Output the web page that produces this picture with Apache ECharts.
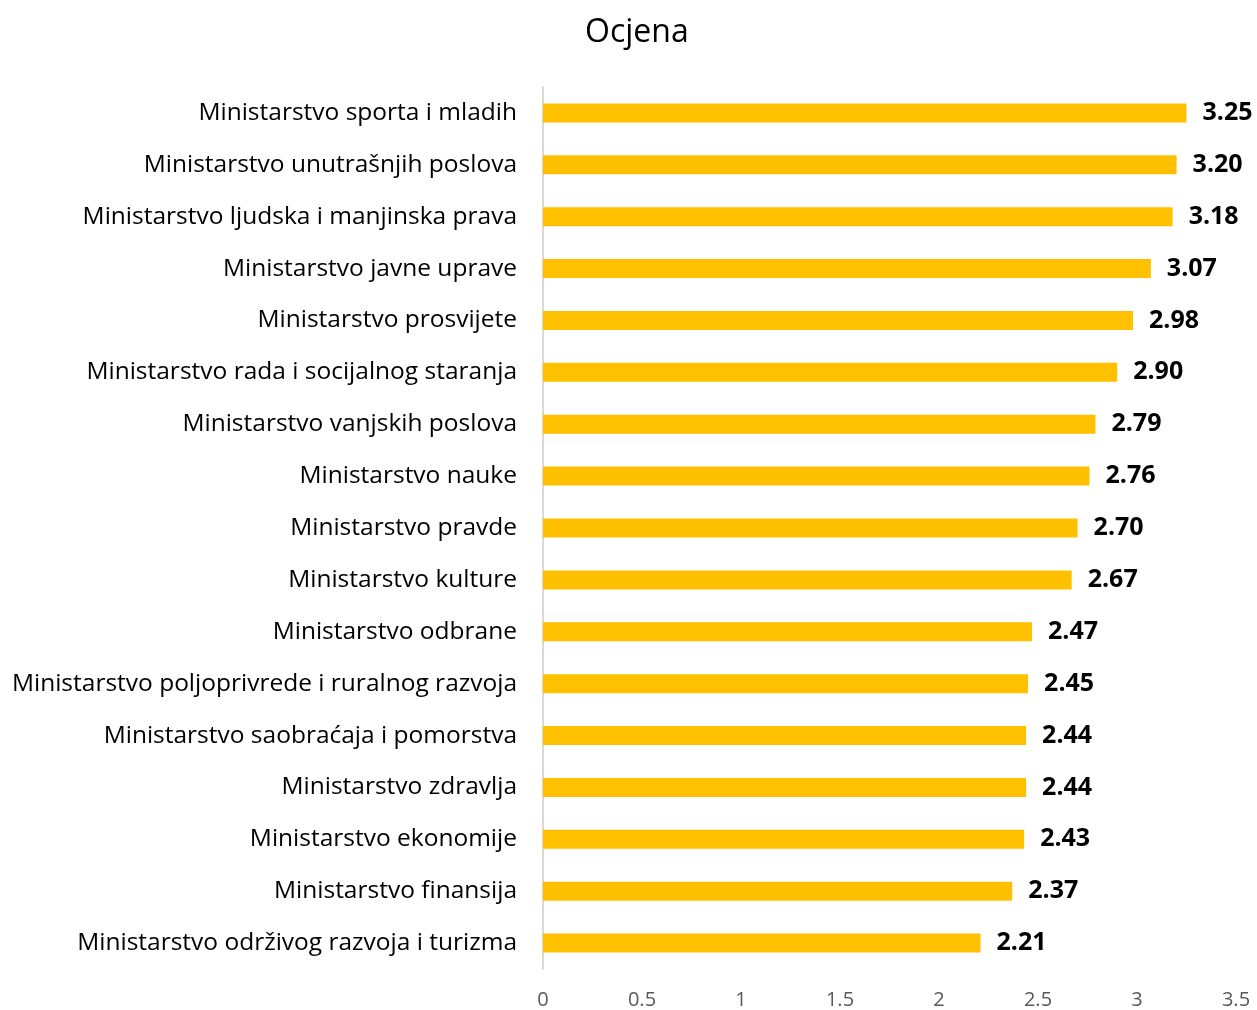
<!DOCTYPE html>
<html>
<head>
<meta charset="utf-8">
<script src="https://cdn.jsdelivr.net/npm/echarts@6/dist/echarts.min.js"></script>
<style>
  html, body { margin: 0; padding: 0; background: #fff; }
  #chart { width: 1257px; height: 1010px; }
</style>
</head>
<body>
<div id="chart"></div>
<script>
// categories, top to bottom
const ministries = [
  'Ministarstvo sporta i mladih',
  'Ministarstvo unutrašnjih poslova',
  'Ministarstvo ljudska i manjinska prava',
  'Ministarstvo javne uprave',
  'Ministarstvo prosvijete',
  'Ministarstvo rada i socijalnog staranja',
  'Ministarstvo vanjskih poslova',
  'Ministarstvo nauke',
  'Ministarstvo pravde',
  'Ministarstvo kulture',
  'Ministarstvo odbrane',
  'Ministarstvo poljoprivrede i ruralnog razvoja',
  'Ministarstvo saobraćaja i pomorstva',
  'Ministarstvo zdravlja',
  'Ministarstvo ekonomije',
  'Ministarstvo finansija',
  'Ministarstvo održivog razvoja i turizma'
]
const scores = [3.25, 3.20, 3.18, 3.07, 2.98, 2.90, 2.79, 2.76, 2.70, 2.67, 2.47, 2.45, 2.44, 2.44, 2.43, 2.37, 2.21]

const fontFamily = '"Open Sans", sans-serif'

const chart = echarts.init(document.getElementById('chart'))
chart.setOption({
  animation: false,
  title: {
    text: 'Ocjena',
    left: 580,
    top: 12,
    textStyle: { fontFamily, fontSize: 32, fontWeight: 'normal', color: '#000' }
  },
  grid: {
    left: 543,
    right: 21,
    top: 87,
    bottom: 36,
    containLabel: false
  },
  xAxis: {
    type: 'value',
    min: 0,
    max: 3.5,
    interval: 0.5,
    splitLine: { show: false },
    axisLine: { show: false },
    axisTick: { show: false },
    axisLabel: { fontFamily, fontSize: 20, color: '#595959', margin: 21 }
  },
  yAxis: {
    type: 'category',
    inverse: true,
    data: ministries,
    axisLine: { show: true, lineStyle: { color: '#d9d9d9', width: 2 } },
    axisTick: { show: false },
    axisLabel: { fontFamily, fontSize: 24.5, color: '#000', margin: 26 }
  },
  series: [{
    type: 'bar',
    data: scores,
    barWidth: 19,
    itemStyle: { color: '#FFC000' },
    label: {
      show: true,
      position: 'right',
      distance: 16,
      formatter: p => p.value.toFixed(2),
      fontFamily,
      fontSize: 25,
      fontWeight: 'bold',
      color: '#000'
    }
  }]
})
</script>
</body>
</html>
